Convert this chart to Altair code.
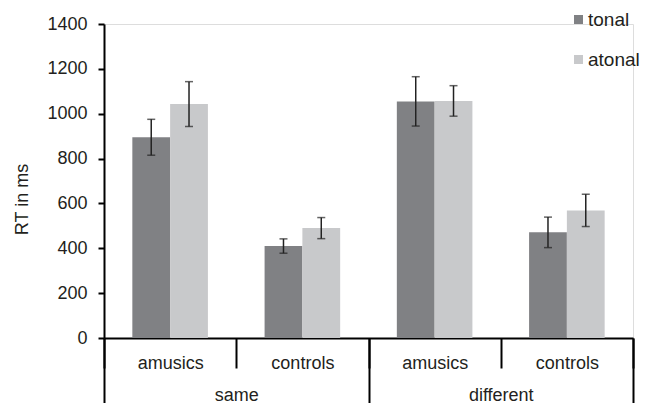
import altair as alt
import pandas as pd

# ---- data ----
conditions = ["same", "same", "different", "different"]
groups = ["amusics", "controls", "amusics", "controls"]
tonal = [895, 410, 1055, 471]
atonal = [1043, 490, 1057, 569]
tonal_err = [80, 32, 110, 68]
atonal_err = [100, 47, 68, 72]
types = ["tonal", "atonal"]
colors = ["#808184", "#c8c9cb"]
y_ticks = [0, 200, 400, 600, 800, 1000, 1200, 1400]

rows = []
for c, g, t, a, te, ae in zip(conditions, groups, tonal, atonal, tonal_err, atonal_err):
    key = f"{c}|{g}"
    rows.append(dict(cond=c, key=key, type="tonal", rt=t, lo=t - te, hi=t + te))
    rows.append(dict(cond=c, key=key, type="atonal", rt=a, lo=a - ae, hi=a + ae))
df = pd.DataFrame(rows)
keys = [f"{c}|{g}" for c, g in zip(conditions, groups)]
cond_order = ["same", "different"]
cond_df = pd.DataFrame({"cond": cond_order})

FONT = "Liberation Sans"
TXT = "#231f20"
FS = 18

x_enc = alt.X(
    "key:N", sort=keys,
    scale=alt.Scale(paddingInner=0, paddingOuter=0),
    axis=alt.Axis(
        title=None, orient="bottom", labelAngle=0,
        labelExpr="split(datum.label, '|')[1]",
        tickBand="extent", tickSize=30, tickWidth=2, tickColor="black",
        domainColor="black", domainWidth=2,
        labelBaseline="alphabetic", labelPadding=0,
        labelFontSize=FS, labelColor=TXT, labelFont=FONT,
    ),
)
xoff = alt.XOffset("type:N", sort=types, scale=alt.Scale(paddingInner=0, paddingOuter=0.75))
y_enc = alt.Y(
    "rt:Q", scale=alt.Scale(domain=[0, 1400], nice=False),
    axis=alt.Axis(
        values=y_ticks, format="d", title="RT in ms", grid=False,
        tickSize=6, tickWidth=2, tickColor="black",
        domainColor="black", domainWidth=2,
        labelFontSize=FS, labelColor=TXT, labelFont=FONT, labelPadding=11,
        titleFontSize=FS, titleColor=TXT, titleFont=FONT, titleFontWeight="normal",
        titleX=-82, titleY=175, titleBaseline="middle", titleAlign="center",
    ),
)

bars = alt.Chart(df).mark_bar().encode(
    x=x_enc, xOffset=xoff, y=y_enc,
    color=alt.Color(
        "type:N", sort=types,
        scale=alt.Scale(domain=types, range=colors),
        legend=alt.Legend(
            title=None, orient="none", legendX=465, legendY=-14,
            symbolType="square", symbolSize=81, symbolStrokeWidth=0,
            labelFontSize=19, labelFont=FONT, labelColor=TXT,
            rowPadding=20, labelOffset=0,
        ),
    ),
)

rules = alt.Chart(df).mark_rule(color="#222", strokeWidth=1.5).encode(
    x=x_enc, xOffset=xoff, y=alt.Y("lo:Q"), y2="hi:Q"
)
cap_lo = alt.Chart(df).mark_tick(color="#222", thickness=1.5, size=8).encode(
    x=x_enc, xOffset=xoff, y=alt.Y("lo:Q")
)
cap_hi = alt.Chart(df).mark_tick(color="#222", thickness=1.5, size=8).encode(
    x=x_enc, xOffset=xoff, y=alt.Y("hi:Q")
)

inner = alt.layer(bars, rules, cap_lo, cap_hi)

cond_layer = alt.Chart(cond_df).mark_point(opacity=0).encode(
    x=alt.X(
        "cond:N", sort=cond_order,
        scale=alt.Scale(paddingInner=0, paddingOuter=0),
        axis=alt.Axis(
            title=None, orient="bottom", labelAngle=0, domain=False,
            tickBand="extent", tickSize=66, tickWidth=2, tickColor="black",
            labelBaseline="alphabetic", labelPadding=-4,
            labelFontSize=FS, labelColor=TXT, labelFont=FONT,
        ),
    )
)

chart = alt.layer(inner, cond_layer).resolve_scale(x="independent").properties(
    width=529, height=314,
    autosize=alt.AutoSizeParams(type="none"),
    padding={"left": 96, "top": 16, "right": 8, "bottom": 65},
).configure_view(stroke=None).configure(font=FONT)

chart.save("out.html", embed_options={"renderer": "svg", "actions": False})
